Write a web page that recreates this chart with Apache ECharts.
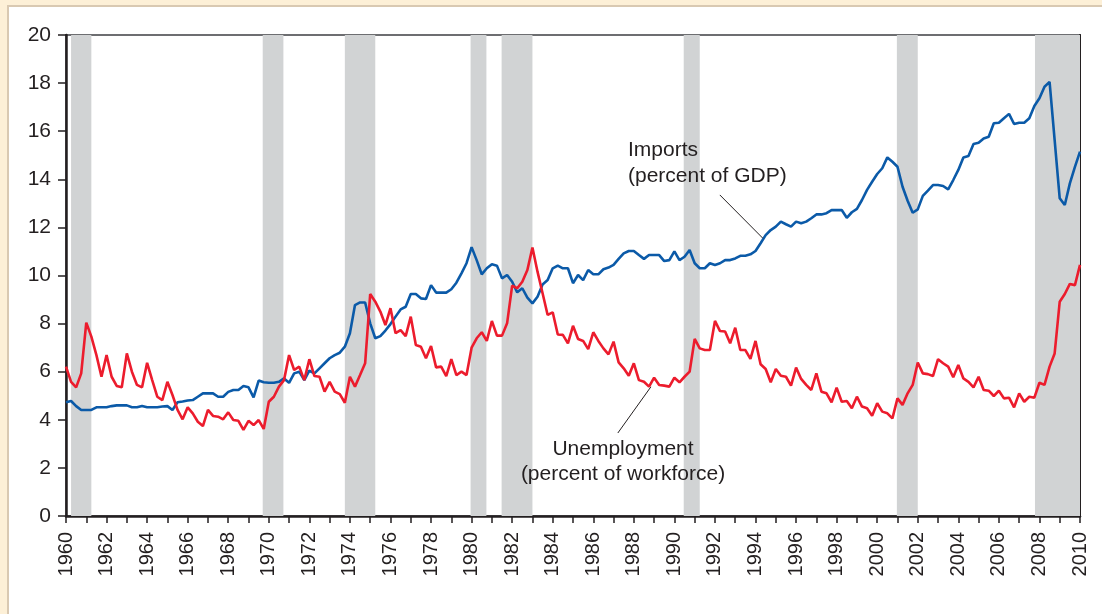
<!DOCTYPE html>
<html>
<head>
<meta charset="utf-8">
<title>Imports and unemployment</title>
<script src="https://cdn.jsdelivr.net/npm/echarts@6/dist/echarts.min.js"></script>
<style>
  html, body { margin: 0; padding: 0; background: #fdf0d7; overflow: hidden; }
  #panel { position: absolute; left: 7px; top: 5px; right: 0; bottom: 0; background: #fff;
           border-top: 2px solid #d9c9b2; border-left: 2px solid #d9c9b2; }
  #main { position: absolute; left: 0; top: 0; width: 1102px; height: 614px; }
</style>
</head>
<body>
<div id="panel"></div>
<div id="main"></div>
<script>
// quarterly, 1960Q1 .. 2010Q1
const startYear = 1960
const imports = [
    4.73, 4.78, 4.57, 4.41,   4.41, 4.41, 4.52, 4.52,   4.52, 4.57, 4.6, 4.6,   4.6, 4.52, 4.52, 4.57,
    4.52, 4.52, 4.52, 4.55,   4.57, 4.41, 4.73, 4.76,   4.8, 4.82, 4.96, 5.1,   5.1, 5.1, 4.96, 4.96,
    5.16, 5.24, 5.24, 5.41,   5.35, 4.93, 5.63, 5.56,   5.54, 5.54, 5.58, 5.72,   5.54, 5.93, 6.0, 5.65,
    6.04, 5.93, 6.14, 6.35,   6.56, 6.69, 6.79, 7.04,   7.6, 8.77, 8.88, 8.88,   8.01, 7.39, 7.48, 7.71,
    7.98, 8.29, 8.59, 8.7,    9.23, 9.23, 9.05, 9.02,   9.6, 9.29, 9.29, 9.29,   9.43, 9.7, 10.09, 10.51,
    11.18, 10.64, 10.05, 10.3, 10.47, 10.41, 9.88, 10.02, 9.74, 9.3, 9.47, 9.08, 8.84, 9.12, 9.63, 9.81,
    10.3, 10.41, 10.3, 10.3,  9.68, 10.02, 9.81, 10.23, 10.05, 10.05, 10.26, 10.33, 10.44, 10.69, 10.92, 11.02,
    11.02, 10.85, 10.69, 10.85, 10.85, 10.85, 10.6, 10.64, 11.0, 10.64, 10.78, 11.06, 10.51, 10.3, 10.3, 10.51,
    10.44, 10.51, 10.64, 10.64, 10.71, 10.82, 10.82, 10.88, 11.02, 11.34, 11.68, 11.89, 12.03, 12.24, 12.13, 12.03,
    12.24, 12.17, 12.24, 12.38, 12.54, 12.54, 12.59, 12.72, 12.72, 12.72, 12.4, 12.63, 12.77, 13.14, 13.56, 13.9,
    14.22, 14.46, 14.91, 14.73, 14.52, 13.69, 13.11, 12.61, 12.75, 13.31, 13.53, 13.76, 13.76, 13.72, 13.58, 13.97,
    14.39, 14.91, 14.97, 15.47, 15.52, 15.7, 15.77, 16.33, 16.35, 16.54, 16.72, 16.3, 16.35, 16.35, 16.54, 17.05,
    17.37, 17.85, 18.05, 15.63, 13.21, 12.93, 13.83, 14.52,
    15.15
]
const unemployment = [
    6.21, 5.58, 5.35, 5.93,   8.04, 7.46, 6.69, 5.79,   6.69, 5.79, 5.41, 5.35,   6.76, 6.0, 5.45, 5.35,
    6.37, 5.65, 4.96, 4.82,   5.58, 5.03, 4.41, 4.02,   4.52, 4.27, 3.92, 3.74,   4.41, 4.16, 4.13, 4.02,
    4.31, 3.99, 3.96, 3.58,   3.96, 3.78, 3.99, 3.62,   4.75, 4.96, 5.38, 5.65,   6.69, 6.07, 6.21, 5.65,
    6.52, 5.82, 5.79, 5.17,   5.58, 5.17, 5.07, 4.71,   5.79, 5.38, 5.86, 6.35,   9.23, 8.91, 8.5, 7.94,
    8.64, 7.6, 7.73, 7.48,    8.29, 7.11, 7.04, 6.56,   7.07, 6.18, 6.21, 5.82,   6.52, 5.86, 6.0, 5.86,
    7.0, 7.39, 7.64, 7.28,    8.11, 7.5, 7.5, 8.01,     9.58, 9.47, 9.74, 10.23,  11.16, 10.16, 9.26, 8.36,
    8.47, 7.55, 7.53, 7.18,   7.91, 7.36, 7.28, 6.94,   7.64, 7.28, 6.97, 6.72,   7.25, 6.39, 6.14, 5.83,
    6.35, 5.65, 5.58, 5.38,   5.75, 5.45, 5.42, 5.38,   5.75, 5.56, 5.79, 6.0,    7.36, 6.97, 6.9, 6.9,
    8.11, 7.69, 7.67, 7.18,   7.83, 6.9, 6.9, 6.53,     7.28, 6.31, 6.11, 5.56,   6.11, 5.83, 5.79, 5.42,
    6.17, 5.7, 5.45, 5.24,    5.93, 5.17, 5.1, 4.73,    5.34, 4.75, 4.78, 4.48,   4.96, 4.55, 4.48, 4.17,
    4.69, 4.34, 4.27, 4.06,   4.89, 4.62, 5.1, 5.45,    6.38, 5.93, 5.9, 5.82,    6.52, 6.35, 6.21, 5.77,
    6.28, 5.72, 5.58, 5.35,   5.79, 5.24, 5.21, 4.99,   5.21, 4.89, 4.92, 4.52,   5.1, 4.75, 4.96, 4.92,
    5.54, 5.45, 6.21, 6.76,   8.91, 9.23, 9.65, 9.6,
    10.44
]
// recession periods (start, end) in decimal years
const recessions = [
    [1960.25, 1961.25], [1969.7, 1970.72], [1973.75, 1975.25], [1979.95, 1980.73],
    [1981.48, 1983.0], [1990.46, 1991.25], [2000.97, 2002.0], [2007.78, 2010.0]
]
const yTicks = [0, 2, 4, 6, 8, 10, 12, 14, 16, 18, 20]

const font = '"Liberation Sans", Arial, Helvetica, sans-serif'
const textColor = '#231f20'

const toPairs = arr => arr.map((v, i) => [startYear + i / 4, v])

const chart = echarts.init(document.getElementById('main'), null, {renderer: 'canvas'})

chart.setOption({
    backgroundColor: 'transparent',
    animation: false,
    textStyle: {fontFamily: font},
    grid: {left: 66, right: 22, top: 35, bottom: 98, show: true, borderColor: '#6d6e71', borderWidth: 2, backgroundColor: 'transparent'},
    xAxis: {
        type: 'value',
        min: 1960,
        max: 2010,
        interval: 1,
        splitLine: {show: false},
        axisLine: {show: true, lineStyle: {color: textColor, width: 2.5}},
        axisTick: {show: true, length: 7, lineStyle: {color: textColor, width: 1.5}},
        axisLabel: {
            rotate: 90,
            margin: 16,
            fontSize: 20,
            color: textColor,
            fontFamily: font,
            formatter: v => (v % 2 === 0 ? String(v) : '')
        }
    },
    yAxis: [{
        type: 'value',
        min: yTicks[0],
        max: yTicks[yTicks.length - 1],
        interval: 2,
        splitLine: {show: false},
        axisLine: {show: true, lineStyle: {color: textColor, width: 2.5}},
        axisTick: {show: true, length: 8, lineStyle: {color: textColor, width: 1.5}},
        axisLabel: {margin: 15, fontSize: 21, color: textColor, fontFamily: font}
    }, {
        type: 'value',
        position: 'right',
        min: 0,
        max: 20,
        interval: 2,
        splitLine: {show: false},
        axisLine: {show: true, lineStyle: {color: textColor, width: 2}},
        axisTick: {show: false},
        axisLabel: {show: false}
    }],
    series: [{
        name: 'recessions',
        type: 'line',
        z: 1,
        silent: true,
        data: [],
        markArea: {
            silent: true,
            itemStyle: {color: '#d1d3d4'},
            data: recessions.map(r => [{xAxis: r[0]}, {xAxis: r[1]}])
        }
    }, {
        name: 'Imports',
        type: 'line',
        z: 3,
        data: toPairs(imports),
        showSymbol: false,
        lineStyle: {color: '#0b5aa8', width: 2.6},
        itemStyle: {color: '#0b5aa8'},
        markLine: {
            silent: true,
            symbol: 'none',
            label: {show: false},
            lineStyle: {color: textColor, width: 1, type: 'solid'},
            data: [[{coord: [1992.24, 13.35]}, {coord: [1994.36, 11.55]}]]
        }
    }, {
        name: 'Unemployment',
        type: 'line',
        z: 4,
        data: toPairs(unemployment),
        showSymbol: false,
        lineStyle: {color: '#ec1c2d', width: 2.6},
        itemStyle: {color: '#ec1c2d'},
        markLine: {
            silent: true,
            symbol: 'none',
            label: {show: false},
            lineStyle: {color: textColor, width: 1, type: 'solid'},
            data: [[{coord: [1987.21, 3.45]}, {coord: [1988.84, 5.37]}]]
        }
    }],
    graphic: [{
        type: 'text',
        left: 628,
        top: 137,
        z: 100,
        style: {text: 'Imports\n(percent of GDP)', font: '21px ' + font, fill: textColor, lineHeight: 26}
    }, {
        type: 'text',
        x: 623,
        y: 437,
        z: 100,
        style: {text: 'Unemployment\n(percent of workforce)', font: '21px ' + font, fill: textColor, lineHeight: 25, align: 'center', verticalAlign: 'top'}
    }]
})
</script>
</body>
</html>
